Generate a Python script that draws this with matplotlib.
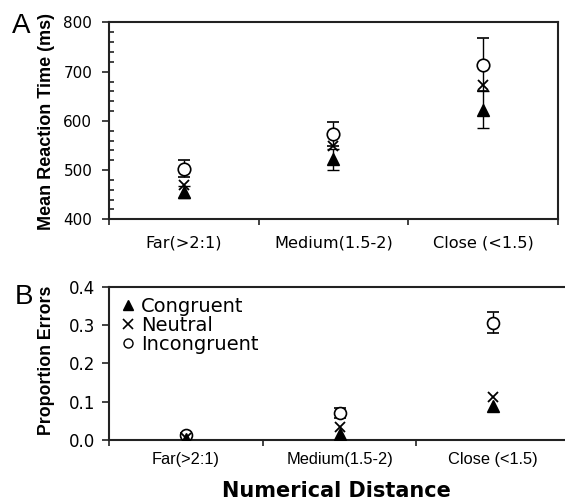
import numpy as np
import matplotlib
matplotlib.use("Agg")
import matplotlib.pyplot as plt
from matplotlib.ticker import MultipleLocator, FormatStrFormatter

categories = ["Far(>2:1)", "Medium(1.5-2)", "Close (<1.5)"]

# panel A: mean reaction time (ms)
rt_congruent = [456, 522, 623]
rt_congruent_err = [12, 21, 38]
rt_neutral = [469, 548, 673]
rt_incongruent = [503, 573, 714]
rt_incongruent_err = [17, 24, 54]

# panel B: proportion errors
pe_congruent = [0.003, 0.016, 0.089]
pe_neutral = [0.006, 0.035, 0.111]
pe_incongruent = [0.013, 0.070, 0.306]
pe_incongruent_err = [0.004, 0.013, 0.027]

xpos = np.arange(len(categories)) + 0.5

fig = plt.figure(figsize=(5.65, 5.0), dpi=100)
axA = fig.add_axes([0.1929, 0.5614, 0.7947, 0.3936])
axB = fig.add_axes([0.1929, 0.12, 0.816, 0.3066])

spine_col = "#222222"
err_kw = dict(ecolor="black", elinewidth=1.0, capsize=4.2, capthick=1.0, ls="none")


def style_axes(ax):
    for s in ax.spines.values():
        s.set_linewidth(1.5)
        s.set_color(spine_col)
    ax.set_xlim(0, 3)
    ax.set_xticks([0, 1, 2, 3])
    ax.set_xticklabels([])
    ax.set_xticks(xpos, minor=True)
    ax.tick_params(axis="x", which="major", direction="out", length=4, width=1.2, color=spine_col)
    ax.tick_params(axis="y", which="major", direction="out", length=5, width=1.2, color=spine_col)


# ---- panel A
style_axes(axA)
axA.errorbar(xpos, rt_incongruent, yerr=rt_incongruent_err, marker="o", ms=9,
             mfc="white", mec="black", mew=1.2, zorder=3, **err_kw)
axA.errorbar(xpos, rt_congruent, yerr=rt_congruent_err, marker="none", zorder=2, **err_kw)
axA.plot(xpos, rt_neutral, ls="none", marker="x", ms=7.5, mec="black", mew=1.3, zorder=4)
axA.plot(xpos, rt_congruent, ls="none", marker="^", ms=8.5, mfc="black", mec="black", zorder=5)
axA.set_ylim(400, 800)
axA.yaxis.set_major_locator(MultipleLocator(100))
axA.yaxis.set_minor_locator(MultipleLocator(20))
axA.tick_params(axis="y", which="minor", direction="in", length=3.5, width=1.2, color=spine_col)
axA.tick_params(axis="y", which="major", pad=7, labelsize=11)
axA.set_xticklabels(categories, minor=True, fontsize=11.6)
axA.tick_params(axis="x", which="minor", length=0, pad=12)

# ---- panel B
style_axes(axB)
axB.spines["right"].set_visible(False)
axB.errorbar(xpos, pe_incongruent, yerr=pe_incongruent_err, marker="o", ms=8.6,
             mfc="white", mec="black", mew=1.2, zorder=3, **err_kw)
axB.plot(xpos, pe_neutral, ls="none", marker="x", ms=7.5, mec="black", mew=1.3, zorder=4)
axB.plot(xpos, pe_congruent, ls="none", marker="^", ms=8.5, mfc="black", mec="black", zorder=5)
axB.set_ylim(0, 0.4)
axB.yaxis.set_major_locator(MultipleLocator(0.1))
axB.yaxis.set_major_formatter(FormatStrFormatter("%.1f"))
axB.tick_params(axis="y", which="major", pad=5, labelsize=12)
axB.set_xticklabels(categories, minor=True, fontsize=11.8, family="Liberation Sans")
axB.tick_params(axis="x", which="minor", length=0, pad=8.5)

h1, = axB.plot([], [], ls="none", marker="^", ms=7.5, mfc="black", mec="black")
h2, = axB.plot([], [], ls="none", marker="x", ms=6.5, mec="black", mew=1.2)
h3, = axB.plot([], [], ls="none", marker="o", ms=6.5, mfc="white", mec="black", mew=1.0)
axB.legend([h1, h2, h3], ["Congruent", "Neutral", "Incongruent"], loc="upper left",
           bbox_to_anchor=(0.027, 0.935), frameon=False, handlelength=0.7,
           handletextpad=0.3, labelspacing=0.0, borderpad=0, borderaxespad=0,
           prop=dict(family="DejaVu Sans", size=14))

# ---- labels
fig.text(12 / 565, 1 - 33 / 500, "A", fontsize=20, family="Liberation Sans", va="baseline")
fig.text(15 / 565, 1 - 304 / 500, "B", fontsize=20, family="Liberation Sans", va="baseline")
fig.text(47 / 565, 1 - 121 / 500, "Mean Reaction Time (ms)", rotation=90, ha="center",
         va="center", fontsize=13, fontweight="bold", family="Liberation Sans")
fig.text(47 / 565, 1 - 360 / 500, "Proportion Errors", rotation=90, ha="center",
         va="center", fontsize=12.8, fontweight="bold", family="Liberation Sans")
fig.text(336 / 565, 1 - 491 / 500, "Numerical Distance", ha="center", va="center",
         fontsize=15, fontweight="bold", family="DejaVu Sans")

fig.savefig("out.png", dpi=100)
